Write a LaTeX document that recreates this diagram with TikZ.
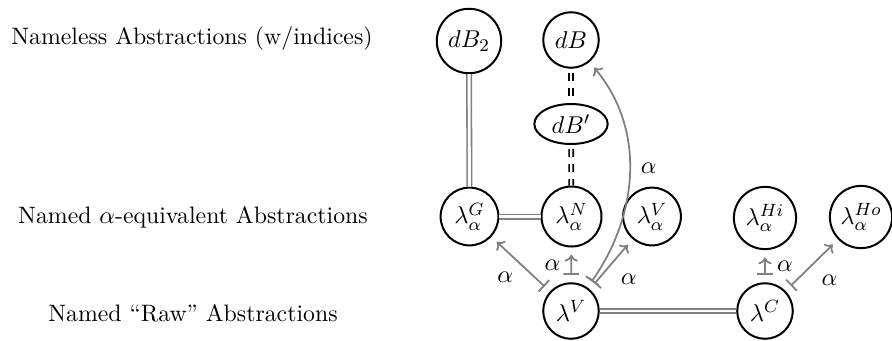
\documentclass[tikz,border=0pt]{standalone}
\usetikzlibrary{shapes.geometric,arrows.meta}
\begin{document}
\begin{tikzpicture}[x=0.45pt,y=-0.45pt,
  font=\fontsize{11}{13}\selectfont,
  st/.style={circle,draw,line width=0.9pt,minimum size=26pt,inner sep=1pt},
  lab/.style={font=\fontsize{10.7}{13}\selectfont},
  eq/.style={draw=gray,double,double distance=1.3pt,line width=0.7pt},
  deq/.style={draw=black,double,double distance=1pt,line width=0.8pt,dash pattern=on 3.6pt off 3.2pt,dash phase=5pt},
  arr/.style={draw=gray,line width=0.8pt,{Bar[width=7pt]}-{To[length=3pt,width=6pt]},shorten <=3.3pt,shorten >=3.3pt},
  al/.style={inner sep=2pt}]
\useasboundingbox (0,0) rectangle (892,340);
% row labels
\node[lab] (t1) at (192,39) {Nameless Abstractions (w/indices)};
\node[lab] (t2) at (193,217) {Named $\alpha$-equivalent Abstractions};
\node[lab] (t3) at (193,313) {Named ``Raw'' Abstractions};
% nodes
\node[st,minimum size=29pt] (dB2) at (469,41) {$dB_2$};
\node[st,minimum size=25pt] (dB) at (571,40) {$dB$};
\node[ellipse,draw,line width=0.9pt,minimum width=33pt,minimum height=18pt,inner sep=0pt] (dBp) at (571,124) {$dB'$};
\node[st] (lG) at (469.5,216.5) {$\lambda^G_\alpha$};
\node[st,minimum size=27pt] (lN) at (571.5,216.5) {$\lambda^N_\alpha$};
\node[st] (lVa) at (652,216.5) {$\lambda^V_\alpha$};
\node[st,minimum size=28pt] (lHi) at (765,218) {$\lambda^{Hi}_\alpha$};
\node[st,minimum size=28pt] (lHo) at (861,217) {$\lambda^{Ho}_\alpha$};
\node[st,minimum size=25pt] (lV) at (571,311) {$\lambda^V$};
\node[st,minimum size=25pt] (lC) at (765,311) {$\lambda^C$};
% equalities
\draw[eq] (dB2) -- (lG);
\draw[eq] (lG) -- (lN);
\draw[eq] (lV) -- (lC);
\draw[deq] (dB) -- (dBp);
\draw[deq] (dBp) -- (lN);
% arrows
\draw[arr] (lV) -- node[al,below left=1pt]{$\alpha$} (lG);
\draw[arr] (lV) -- node[al,left=2.5pt]{$\alpha$} (lN);
\draw[arr] (lV) -- node[al,below right=2pt]{$\alpha$} (lVa);
\draw[arr] (lV) to[out=55,in=-50] node[al,pos=0.52,right=3pt]{$\alpha$} (dB);
\draw[arr] (lC) -- node[al,right=3pt]{$\alpha$} (lHi);
\draw[arr] (lC) -- node[al,below right=2pt]{$\alpha$} (lHo);
\end{tikzpicture}
\end{document}
